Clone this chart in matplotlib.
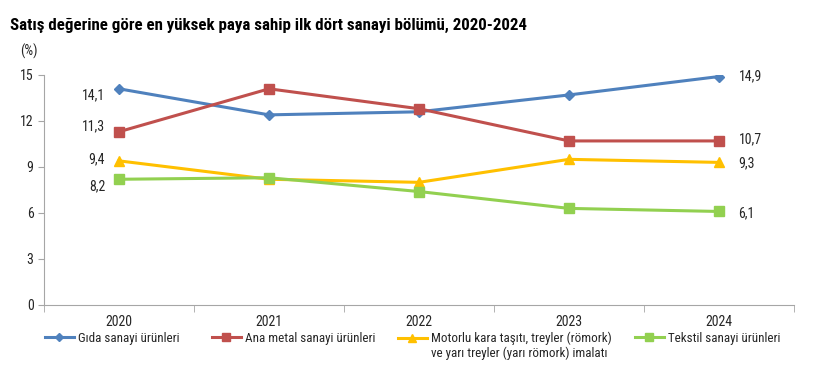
import matplotlib.pyplot as plt
from matplotlib import font_manager
import numpy as np

years = ['2020', '2021', '2022', '2023', '2024']
gida = [14.1, 12.4, 12.6, 13.7, 14.9]
ana_metal = [11.3, 14.1, 12.8, 10.7, 10.7]
motorlu = [9.4, 8.2, 8.0, 9.5, 9.3]
tekstil = [8.2, 8.3, 7.4, 6.3, 6.1]

labels = ['Gıda sanayi ürünleri', 'Ana metal sanayi ürünleri',
          'Motorlu kara taşıtı, treyler (römork)\nve yarı treyler (yarı römork) imalatı',
          'Tekstil sanayi ürünleri']
colors = ['#4F81BD', '#C0504D', '#FFC000', '#92D050']
markers = ['D', 's', '^', 's']
msizes = [5, 7, 7, 7]

names = {f.name for f in font_manager.fontManager.ttflist}
fam = 'Liberation Sans'
for cand in ['Liberation Sans Narrow', 'Roboto Condensed', 'Open Sans Condensed', 'DejaVu Sans Condensed']:
    if cand in names:
        fam = cand
        break
plt.rcParams['font.family'] = [fam, 'DejaVu Sans']

fig = plt.figure(figsize=(8.2, 3.86), dpi=100)
ax = fig.add_axes([44 / 820, 1 - 305 / 386, 750 / 820, 230 / 386])

x = np.arange(len(years))
series = [gida, ana_metal, motorlu, tekstil]
lines = []
for vals, lab, c, m, ms in zip(series, labels, colors, markers, msizes):
    ln, = ax.plot(x, vals, color=c, marker=m, markersize=ms, linewidth=2.2, label=lab)
    lines.append(ln)

# data labels
left_off = [(-10, -5), (-10, 4), (-10, 1), (-10, -5)]
right_off = [(14, 0), (14, 1), (14, -1), (14, -1)]
for vals, lo, ro in zip(series, left_off, right_off):
    ax.annotate(f'{vals[0]:.1f}'.replace('.', ','), (x[0], vals[0]), xytext=lo,
                textcoords='offset points', ha='right', va='center', fontsize=10, color='#262626')
    ax.annotate(f'{vals[-1]:.1f}'.replace('.', ','), (x[-1], vals[-1]), xytext=ro,
                textcoords='offset points', ha='left', va='center', fontsize=10, color='#262626')

ax.set_xlim(-0.5, len(years) - 0.5)
ax.set_ylim(0, 15)
ax.set_yticks([0, 3, 6, 9, 12, 15])
ax.set_xticks(x)
ax.set_xticklabels(years, fontsize=10)
ax.set_xticks(np.arange(-0.5, len(years)), minor=True)
ax.tick_params(axis='x', which='major', length=0, pad=7, labelcolor='#262626')
ax.tick_params(axis='x', which='minor', length=5, color='#A6A6A6')
ax.tick_params(axis='y', length=4, color='#A6A6A6', labelsize=10, labelcolor='#262626')
for s in ['top', 'right']:
    ax.spines[s].set_visible(False)
for s in ['left', 'bottom']:
    ax.spines[s].set_color('#A6A6A6')

fig.text(10 / 820, 1 - 25 / 386, 'Satış değerine göre en yüksek paya sahip ilk dört sanayi bölümü, 2020-2024',
         fontsize=12.2, fontweight='bold', va='center', ha='left')
fig.text(20 / 820, 1 - 51 / 386, '(%)', fontsize=10, va='center', ha='left', color='#262626')

# legend entries placed individually; second line of the long label drawn under the first
leg_x = [45, 212, 398, 635]
legs = []
for ln, lab, lx in zip(lines, labels, leg_x):
    first = lab.split('\n')[0]
    lg = fig.legend([ln], [first], loc='upper left', bbox_to_anchor=(lx / 820, 1 - 332 / 386),
                    frameon=False, fontsize=9.4, handlelength=2.2, handletextpad=0.3,
                    borderaxespad=0, borderpad=0, markerscale=0.75)
    for t in lg.get_texts():
        t.set_color('#262626')
    legs.append(lg)

fig.canvas.draw()
t = legs[2].get_texts()[0]
bb = t.get_window_extent().transformed(fig.transFigure.inverted())
fig.text(bb.x0, bb.y0 - 0.004, labels[2].split('\n')[1], fontsize=9.4, color='#262626',
         ha='left', va='top')

fig.savefig('out.png', dpi=100)
